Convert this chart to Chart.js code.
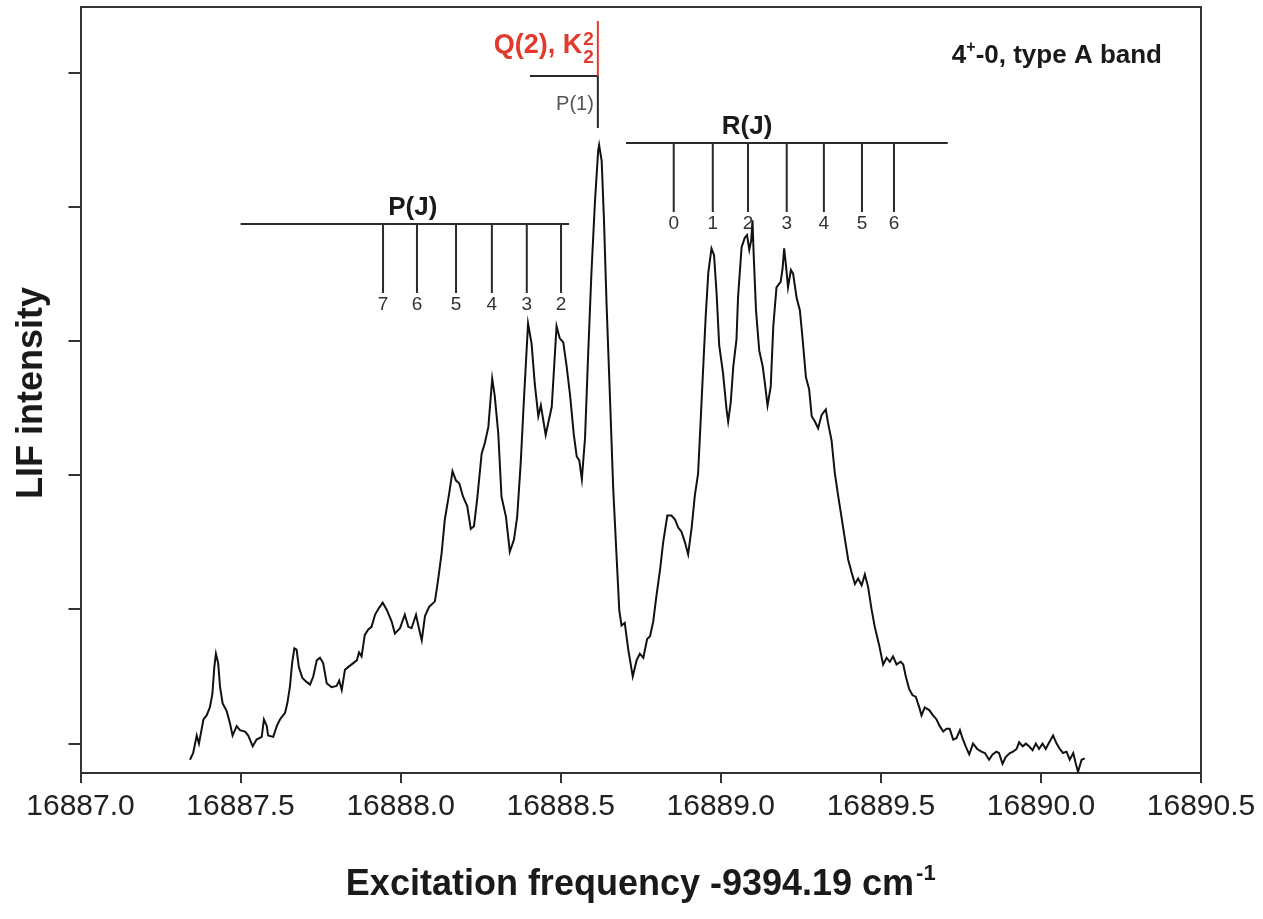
<!DOCTYPE html>
<html>
<head>
<meta charset="utf-8">
<title>LIF spectrum, 4+-0 type A band</title>
<script src="https://cdn.jsdelivr.net/npm/chart.js@4.4.1/dist/chart.umd.min.js"></script>
<style>
  html, body { margin: 0; padding: 0; background: #fff; }
  #wrap { width: 1263px; height: 919px; position: relative; }
</style>
</head>
<body>
<div id="wrap"><canvas id="spectrum"></canvas></div>
<script>
// spectrum (excitation frequency, LIF intensity in tick units)
const freq = [
  16887.342, 16887.352, 16887.363, 16887.370, 16887.384, 16887.394, 16887.404, 16887.412, 16887.418, 16887.423,
  16887.430, 16887.436, 16887.444, 16887.457, 16887.467, 16887.475, 16887.488, 16887.498, 16887.514, 16887.524,
  16887.538, 16887.550, 16887.566, 16887.573, 16887.582, 16887.586, 16887.602, 16887.613, 16887.623, 16887.639,
  16887.646, 16887.654, 16887.661, 16887.668, 16887.675, 16887.682, 16887.693, 16887.706, 16887.717, 16887.727,
  16887.738, 16887.748, 16887.758, 16887.769, 16887.784, 16887.800, 16887.808, 16887.816, 16887.826, 16887.836,
  16887.852, 16887.863, 16887.870, 16887.878, 16887.888, 16887.899, 16887.909, 16887.920, 16887.932, 16887.944,
  16887.956, 16887.972, 16887.982, 16887.998, 16888.013, 16888.024, 16888.034, 16888.048, 16888.058, 16888.066,
  16888.076, 16888.089, 16888.107, 16888.117, 16888.128, 16888.138, 16888.152, 16888.162, 16888.173, 16888.183,
  16888.195, 16888.208, 16888.219, 16888.229, 16888.239, 16888.253, 16888.263, 16888.274, 16888.286, 16888.294,
  16888.305, 16888.315, 16888.329, 16888.341, 16888.354, 16888.364, 16888.375, 16888.385, 16888.398, 16888.409,
  16888.419, 16888.430, 16888.438, 16888.453, 16888.472, 16888.487, 16888.497, 16888.508, 16888.518, 16888.529,
  16888.541, 16888.550, 16888.558, 16888.566, 16888.576, 16888.586, 16888.596, 16888.607, 16888.617, 16888.620,
  16888.628, 16888.635, 16888.643, 16888.654, 16888.664, 16888.675, 16888.683, 16888.690, 16888.700, 16888.711,
  16888.725, 16888.737, 16888.747, 16888.758, 16888.770, 16888.779, 16888.789, 16888.799, 16888.810, 16888.820,
  16888.833, 16888.846, 16888.857, 16888.867, 16888.877, 16888.888, 16888.898, 16888.909, 16888.919, 16888.929,
  16888.935, 16888.943, 16888.953, 16888.961, 16888.971, 16888.979, 16888.987, 16888.995, 16889.007, 16889.018,
  16889.023, 16889.031, 16889.039, 16889.049, 16889.054, 16889.065, 16889.075, 16889.082, 16889.089, 16889.095,
  16889.099, 16889.103, 16889.110, 16889.120, 16889.131, 16889.138, 16889.146, 16889.156, 16889.164, 16889.174,
  16889.187, 16889.193, 16889.198, 16889.205, 16889.210, 16889.219, 16889.226, 16889.237, 16889.247, 16889.255,
  16889.266, 16889.276, 16889.284, 16889.294, 16889.304, 16889.315, 16889.328, 16889.335, 16889.346, 16889.356,
  16889.367, 16889.377, 16889.388, 16889.398, 16889.408, 16889.419, 16889.429, 16889.440, 16889.450, 16889.460,
  16889.471, 16889.481, 16889.495, 16889.507, 16889.518, 16889.528, 16889.538, 16889.549, 16889.562, 16889.570,
  16889.578, 16889.588, 16889.599, 16889.609, 16889.620, 16889.627, 16889.637, 16889.651, 16889.663, 16889.674,
  16889.684, 16889.695, 16889.705, 16889.715, 16889.726, 16889.736, 16889.747, 16889.755, 16889.765, 16889.776,
  16889.788, 16889.801, 16889.814, 16889.825, 16889.838, 16889.849, 16889.861, 16889.869, 16889.880, 16889.890,
  16889.903, 16889.913, 16889.924, 16889.932, 16889.943, 16889.953, 16889.963, 16889.974, 16889.984, 16889.994,
  16890.005, 16890.015, 16890.026, 16890.038, 16890.049, 16890.059, 16890.069, 16890.080, 16890.090, 16890.101,
  16890.109, 16890.116, 16890.127, 16890.137
];
const lif = [
  -0.12, -0.07, 0.06, 0.00, 0.18, 0.21, 0.27, 0.37, 0.57, 0.67,
  0.60, 0.42, 0.30, 0.24, 0.15, 0.06, 0.13, 0.10, 0.09, 0.06,
  -0.02, 0.03, 0.05, 0.18, 0.13, 0.06, 0.05, 0.13, 0.18, 0.23,
  0.30, 0.42, 0.60, 0.71, 0.70, 0.57, 0.49, 0.46, 0.44, 0.50,
  0.62, 0.64, 0.60, 0.45, 0.42, 0.43, 0.47, 0.40, 0.55, 0.57,
  0.60, 0.62, 0.68, 0.65, 0.81, 0.85, 0.87, 0.96, 1.01, 1.05,
  1.00, 0.91, 0.82, 0.86, 0.96, 0.87, 0.86, 0.96, 0.85, 0.77,
  0.95, 1.02, 1.06, 1.22, 1.42, 1.67, 1.87, 2.03, 1.96, 1.94,
  1.84, 1.77, 1.60, 1.62, 1.82, 2.16, 2.24, 2.36, 2.72, 2.59,
  2.31, 1.84, 1.69, 1.43, 1.52, 1.69, 2.09, 2.56, 3.13, 2.98,
  2.68, 2.44, 2.52, 2.30, 2.51, 3.11, 3.02, 2.99, 2.82, 2.60,
  2.30, 2.14, 2.11, 1.97, 2.28, 2.92, 3.51, 4.04, 4.42, 4.46,
  4.34, 3.91, 3.29, 2.57, 1.90, 1.37, 0.99, 0.88, 0.90, 0.70,
  0.50, 0.62, 0.67, 0.64, 0.78, 0.80, 0.91, 1.10, 1.29, 1.50,
  1.70, 1.70, 1.67, 1.61, 1.58, 1.50, 1.41, 1.61, 1.85, 2.01,
  2.30, 2.70, 3.19, 3.51, 3.69, 3.64, 3.35, 2.97, 2.76, 2.49,
  2.40, 2.54, 2.81, 3.01, 3.33, 3.70, 3.77, 3.79, 3.68, 3.75,
  3.90, 3.63, 3.23, 2.93, 2.81, 2.68, 2.52, 2.66, 3.11, 3.40,
  3.44, 3.54, 3.69, 3.53, 3.40, 3.53, 3.50, 3.32, 3.23, 3.03,
  2.73, 2.64, 2.44, 2.40, 2.35, 2.45, 2.49, 2.39, 2.26, 2.02,
  1.84, 1.69, 1.52, 1.37, 1.28, 1.19, 1.23, 1.18, 1.26, 1.17,
  1.00, 0.87, 0.73, 0.59, 0.64, 0.61, 0.65, 0.59, 0.61, 0.59,
  0.50, 0.41, 0.36, 0.35, 0.27, 0.21, 0.27, 0.25, 0.21, 0.18,
  0.13, 0.09, 0.11, 0.11, 0.03, 0.04, 0.10, 0.04, -0.02, -0.08,
  0.00, -0.04, -0.06, -0.07, -0.12, -0.08, -0.06, -0.07, -0.15, -0.10,
  -0.07, -0.06, -0.04, 0.01, -0.02, 0.00, -0.02, -0.05, 0.00, -0.04,
  0.00, -0.04, 0.01, 0.06, 0.00, -0.04, -0.07, -0.06, -0.12, -0.07,
  -0.15, -0.21, -0.12, -0.11
];
const xTicks = [16887.0, 16887.5, 16888.0, 16888.5, 16889.0, 16889.5, 16890.0, 16890.5];
const yTicks = [0, 1, 2, 3, 4, 5];

// rotational line assignments
const pJ = ['7', '6', '5', '4', '3', '2'];
const pFreq = [16887.945, 16888.051, 16888.173, 16888.285, 16888.394, 16888.501];
const rJ = ['0', '1', '2', '3', '4', '5', '6'];
const rFreq = [16888.853, 16888.975, 16889.085, 16889.206, 16889.322, 16889.441, 16889.541];
const qFreq = 16888.616;

const FONT = '"Liberation Sans", Arial, Helvetica, sans-serif';
const INK = '#1a1a1a';

document.addEventListener('DOMContentLoaded', function () {

    function drawComb(ctx, x, y, opt) {
        const barY = y.getPixelForValue(opt.bar);
        const tipY = y.getPixelForValue(opt.tip);
        ctx.strokeStyle = '#2a2a2a';
        ctx.lineWidth = 2;
        ctx.beginPath();
        ctx.moveTo(x.getPixelForValue(opt.from), barY);
        ctx.lineTo(x.getPixelForValue(opt.to), barY);
        opt.pos.forEach(f => {
            const px = x.getPixelForValue(f);
            ctx.moveTo(px, barY);
            ctx.lineTo(px, tipY);
        });
        ctx.stroke();

        ctx.fillStyle = '#333';
        ctx.font = '19px ' + FONT;
        ctx.textAlign = 'center';
        ctx.textBaseline = 'middle';
        opt.pos.forEach((f, i) => {
            ctx.fillText(opt.labels[i], x.getPixelForValue(f), tipY + 12);
        });

        ctx.fillStyle = INK;
        ctx.font = 'bold 26px ' + FONT;
        ctx.fillText(opt.title, x.getPixelForValue(opt.titleAt), barY - 16);
    }

    const annotations = {
        id: 'annotations',
        afterDraw(chart) {
            const { ctx, chartArea: a, scales: { x, y } } = chart;
            ctx.save();

            // top and right frame
            ctx.strokeStyle = '#333';
            ctx.lineWidth = 2;
            ctx.beginPath();
            ctx.moveTo(a.left, a.top);
            ctx.lineTo(a.right, a.top);
            ctx.lineTo(a.right, a.bottom);
            ctx.stroke();

            drawComb(ctx, x, y, {
                pos: pFreq, labels: pJ, from: 16887.50, to: 16888.526,
                bar: 3.872, tip: 3.358, title: 'P(J)', titleAt: 16888.038
            });
            drawComb(ctx, x, y, {
                pos: rFreq, labels: rJ, from: 16888.704, to: 16889.709,
                bar: 4.475, tip: 3.961, title: 'R(J)', titleAt: 16889.082
            });

            // Q(2) / P(1) marker
            const qx = x.getPixelForValue(qFreq);
            const qTop = y.getPixelForValue(5.385);
            const qMid = y.getPixelForValue(4.975);
            const qBot = y.getPixelForValue(4.587);
            ctx.strokeStyle = '#2a2a2a';
            ctx.beginPath();
            ctx.moveTo(x.getPixelForValue(16888.404), qMid);
            ctx.lineTo(qx, qMid);
            ctx.lineTo(qx, qBot);
            ctx.stroke();
            ctx.strokeStyle = '#e23b2e';
            ctx.beginPath();
            ctx.moveTo(qx, qTop);
            ctx.lineTo(qx, qMid);
            ctx.stroke();

            // red label: Q(2), K^2_2
            ctx.fillStyle = '#e23b2e';
            ctx.textAlign = 'left';
            ctx.textBaseline = 'alphabetic';
            ctx.font = 'bold 19px ' + FONT;
            const w2 = ctx.measureText('2').width;
            const right = qx - 4;
            ctx.fillText('2', right - w2, qMid - 31);
            ctx.fillText('2', right - w2, qMid - 13);
            ctx.font = 'bold 27px ' + FONT;
            const wQ = ctx.measureText('Q(2), K').width;
            ctx.fillText('Q(2), K', right - w2 - 1 - wQ, qMid - 23);

            ctx.fillStyle = '#555';
            ctx.font = '20px ' + FONT;
            ctx.textAlign = 'right';
            ctx.textBaseline = 'middle';
            ctx.fillText('P(1)', qx - 4, y.getPixelForValue(4.759));

            // band label, top right
            ctx.fillStyle = INK;
            ctx.textAlign = 'left';
            ctx.textBaseline = 'alphabetic';
            ctx.font = 'bold 26px ' + FONT;
            const tail = '-0, type A band';
            const wTail = ctx.measureText(tail).width;
            const w4 = ctx.measureText('4').width;
            ctx.font = 'bold 16px ' + FONT;
            const wPlus = ctx.measureText('+').width;
            const endX = 1162, base = 63;
            let sx = endX - wTail - wPlus - w4;
            ctx.font = 'bold 26px ' + FONT;
            ctx.fillText('4', sx, base);
            ctx.font = 'bold 16px ' + FONT;
            ctx.fillText('+', sx + w4, base - 11);
            ctx.font = 'bold 26px ' + FONT;
            ctx.fillText(tail, sx + w4 + wPlus, base);

            // axis titles
            ctx.fillStyle = INK;
            ctx.font = 'bold 36px ' + FONT;
            const main = 'Excitation frequency -9394.19 cm';
            const wMain = ctx.measureText(main).width;
            ctx.font = 'bold 22px ' + FONT;
            const wSup = ctx.measureText('-1').width;
            const cx = (a.left + a.right) / 2;
            const tx = cx - (wMain + wSup + 2) / 2;
            ctx.font = 'bold 36px ' + FONT;
            ctx.fillText(main, tx, 895);
            ctx.font = 'bold 22px ' + FONT;
            ctx.fillText('-1', tx + wMain + 2, 880);

            ctx.translate(32, (a.top + a.bottom) / 2 + 3);
            ctx.rotate(-Math.PI / 2);
            ctx.textAlign = 'center';
            ctx.textBaseline = 'middle';
            ctx.font = 'bold 36px ' + FONT;
            ctx.fillText('LIF intensity', 0, 0);

            ctx.restore();
        }
    };

    const ctx = document.getElementById('spectrum').getContext('2d');
    new Chart(ctx, {
        type: 'line',
        data: {
            datasets: [{
                data: freq.map((f, i) => ({ x: f, y: lif[i] })),
                borderColor: '#111',
                borderWidth: 2,
                pointRadius: 0,
                tension: 0,
                fill: false
            }]
        },
        options: {
            responsive: true,
            maintainAspectRatio: false,
            animation: false,
            layout: { padding: { top: 7, right: 62, left: 0, bottom: 0 } },
            plugins: { legend: { display: false }, tooltip: { enabled: false } },
            scales: {
                x: {
                    type: 'linear',
                    min: 16887,
                    max: 16890.5,
                    afterBuildTicks: s => { s.ticks = xTicks.map(v => ({ value: v })); },
                    afterFit: s => { s.height = 146; },
                    ticks: {
                        callback: v => v.toFixed(1),
                        font: { family: FONT, size: 30 },
                        color: '#222',
                        padding: 6,
                        maxRotation: 0,
                        autoSkip: false
                    },
                    grid: { drawOnChartArea: false, drawTicks: true, tickLength: 10, color: '#333', lineWidth: 2 },
                    border: { display: true, color: '#333', width: 2 }
                },
                y: {
                    type: 'linear',
                    min: -0.219,
                    max: 5.489,
                    afterBuildTicks: s => { s.ticks = yTicks.map(v => ({ value: v })); },
                    afterFit: s => { s.width = 80.5; },
                    ticks: { display: false },
                    grid: { drawOnChartArea: false, drawTicks: true, tickLength: 12, color: '#333', lineWidth: 2 },
                    border: { display: true, color: '#333', width: 2 }
                }
            }
        },
        plugins: [annotations]
    });
});
</script>
</body>
</html>
